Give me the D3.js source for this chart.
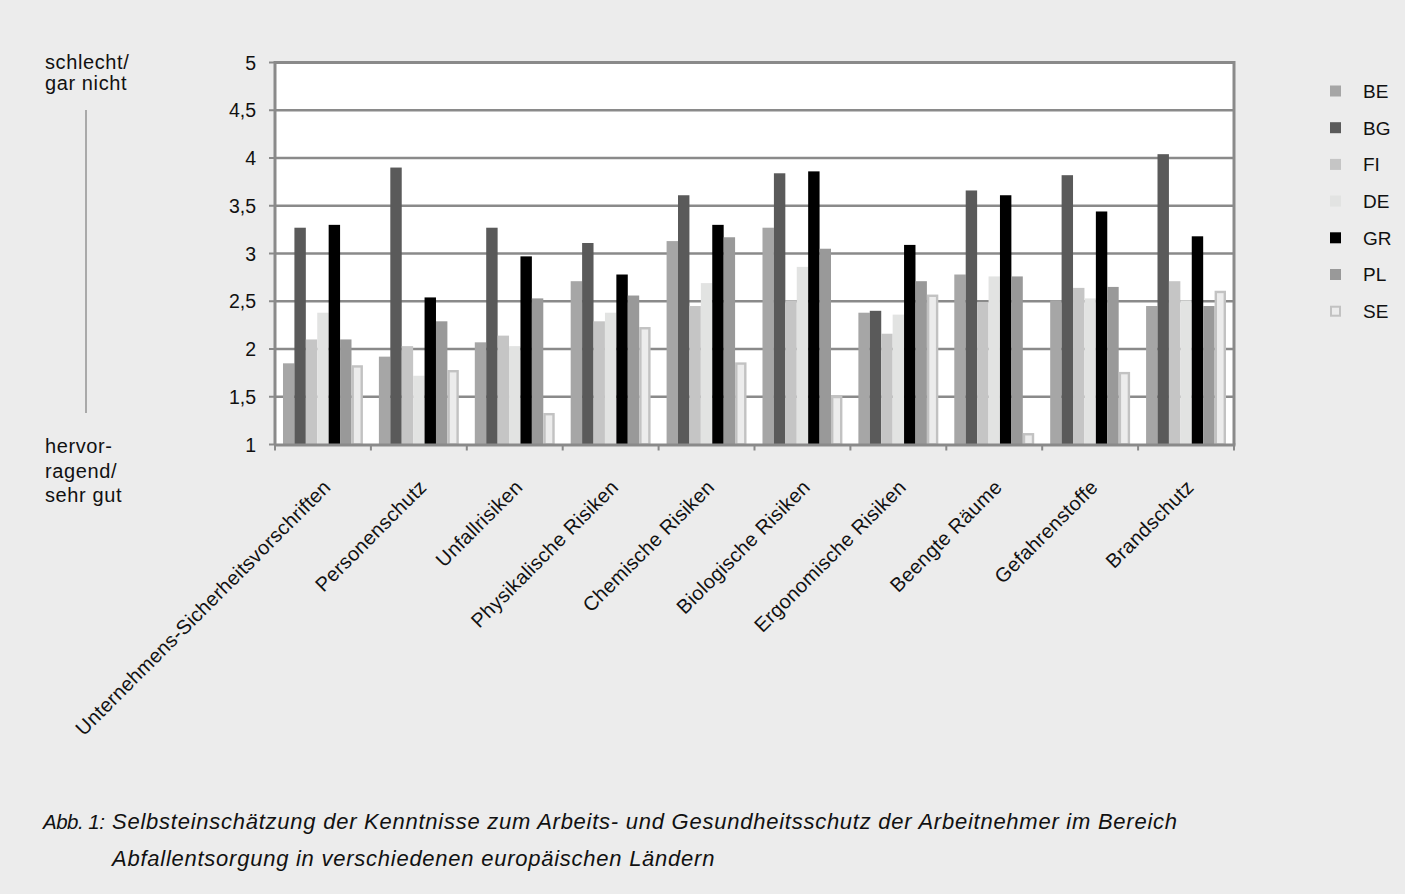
<!DOCTYPE html>
<html>
<head>
<meta charset="utf-8">
<script src="https://cdn.jsdelivr.net/npm/d3@7"></script>
<style>
  html, body { margin: 0; padding: 0; background: #ececec; }
  svg { display: block; font-family: "Liberation Sans", Arial, Helvetica, sans-serif; }
</style>
</head>
<body>
<svg id="chart" width="1405" height="894"></svg>
<script>
// Themes (x categories)
const categories = [
  "Unternehmens-Sicherheitsvorschriften",
  "Personenschutz",
  "Unfallrisiken",
  "Physikalische Risiken",
  "Chemische Risiken",
  "Biologische Risiken",
  "Ergonomische Risiken",
  "Beengte Räume",
  "Gefahrenstoffe",
  "Brandschutz"
];

// Countries (series)
const countries = ["BE", "BG", "FI", "DE", "GR", "PL", "SE"];

// Mean self-assessment per country, in category order (1 = sehr gut ... 5 = gar nicht)
const valuesBE = [1.85, 1.92, 2.07, 2.71, 3.13, 3.27, 2.38, 2.78, 2.51, 2.45];
const valuesBG = [3.27, 3.90, 3.27, 3.11, 3.61, 3.84, 2.40, 3.66, 3.82, 4.04];
const valuesFI = [2.10, 2.03, 2.14, 2.29, 2.45, 2.51, 2.16, 2.49, 2.64, 2.71];
const valuesDE = [2.38, 1.72, 2.03, 2.38, 2.69, 2.86, 2.36, 2.76, 2.53, 2.51];
const valuesGR = [3.30, 2.54, 2.97, 2.78, 3.30, 3.86, 3.09, 3.61, 3.44, 3.18];
const valuesPL = [2.10, 2.29, 2.53, 2.56, 3.17, 3.05, 2.71, 2.76, 2.65, 2.45];
const valuesSE = [1.83, 1.78, 1.33, 2.23, 1.86, 1.51, 2.57, 1.12, 1.76, 2.61];

const yTicks = [1, 1.5, 2, 2.5, 3, 3.5, 4, 4.5, 5];
const yTickLabels = ["1", "1,5", "2", "2,5", "3", "3,5", "4", "4,5", "5"];

const topLabel = ["schlecht/", "gar nicht"];
const bottomLabel = ["hervor-", "ragend/", "sehr gut"];
const captionLead = "Abb. 1:";
const captionLines = [
  "Selbsteinschätzung der Kenntnisse zum Arbeits- und Gesundheitsschutz der Arbeitnehmer im Bereich",
  "Abfallentsorgung in verschiedenen europäischen Ländern"
];

const seriesValues = [valuesBE, valuesBG, valuesFI, valuesDE, valuesGR, valuesPL, valuesSE];
const fills  = ["#a6a6a6", "#5a5a5a", "#c5c5c5", "#e2e3e2", "#000000", "#999999", "#ececec"];
const strokes = [null, null, null, null, null, null, "#c2c2c2"];

const svg = d3.select("#chart");
const plot = { left: 275, right: 1234, top: 62.5, bottom: 444.5 };

const x = d3.scaleBand().domain(categories).range([plot.left, plot.right]).padding(0);
const y = d3.scaleLinear().domain([1, 5]).range([plot.bottom, plot.top]);

// inner band for the seven countries, with a gap of 1.4 bar widths per group
const gapRatio = 1.4;
const barW = x.bandwidth() / (countries.length + gapRatio);
const xi = d3.scaleBand().domain(countries)
  .range([barW * gapRatio / 2, x.bandwidth() - barW * gapRatio / 2]).padding(0);

// plot background
svg.append("rect")
  .attr("x", plot.left).attr("y", plot.top)
  .attr("width", plot.right - plot.left).attr("height", plot.bottom - plot.top)
  .attr("fill", "#ffffff");

// horizontal gridlines
svg.append("g")
  .selectAll("line")
  .data(yTicks.filter(t => t > 1))
  .join("line")
  .attr("x1", plot.left).attr("x2", plot.right)
  .attr("y1", d => y(d)).attr("y2", d => y(d))
  .attr("stroke", "#8a8a8a").attr("stroke-width", 2.5);

// bars
const groups = svg.append("g")
  .selectAll("g")
  .data(categories)
  .join("g")
  .attr("transform", d => `translate(${x(d)},0)`);

groups.selectAll("rect")
  .data((c, ci) => countries.map((k, si) => ({ k, si, v: seriesValues[si][ci] })))
  .join("rect")
  .attr("x", d => xi(d.k) + (strokes[d.si] ? 1.2 : 0))
  .attr("width", d => xi.bandwidth() - (strokes[d.si] ? 2.4 : 0))
  .attr("y", d => y(d.v) + (strokes[d.si] ? 1.2 : 0))
  .attr("height", d => y(1) - y(d.v) - (strokes[d.si] ? 1.2 : 0))
  .attr("fill", d => fills[d.si])
  .attr("stroke", d => strokes[d.si] || "none")
  .attr("stroke-width", 2.4);

// plot frame: left, top, right
svg.append("path")
  .attr("d", `M${plot.left},${plot.bottom}V${plot.top}H${plot.right}V${plot.bottom}`)
  .attr("fill", "none").attr("stroke", "#8a8a8a").attr("stroke-width", 3);

// x axis with ticks at band edges
const xAxisG = svg.append("g");
xAxisG.append("line")
  .attr("x1", plot.left - 1).attr("x2", plot.right + 1.5)
  .attr("y1", plot.bottom + 0.5).attr("y2", plot.bottom + 0.5)
  .attr("stroke", "#8a8a8a").attr("stroke-width", 3);
xAxisG.selectAll("line.tick")
  .data(categories.map(c => x(c)).concat([plot.right]))
  .join("line").attr("class", "tick")
  .attr("x1", d => d).attr("x2", d => d)
  .attr("y1", plot.bottom).attr("y2", plot.bottom + 6)
  .attr("stroke", "#8a8a8a").attr("stroke-width", 2);

// rotated category labels
xAxisG.selectAll("text")
  .data(categories)
  .join("text")
  .attr("transform", d => `translate(${x(d) + x.bandwidth() / 2 + 9},${plot.bottom + 44}) rotate(-45)`)
  .attr("text-anchor", "end")
  .attr("font-size", 20)
  .attr("letter-spacing", 0.3)
  .attr("fill", "#111")
  .text(d => d);

// y axis tick labels
const yAxisG = svg.append("g");
yAxisG.selectAll("line")
  .data(yTicks)
  .join("line")
  .attr("x1", plot.left - 6).attr("x2", plot.left)
  .attr("y1", d => y(d)).attr("y2", d => y(d))
  .attr("stroke", "#8a8a8a").attr("stroke-width", 2);
yAxisG.selectAll("text")
  .data(yTicks)
  .join("text")
  .attr("x", 256).attr("y", d => y(d))
  .attr("dy", "0.36em")
  .attr("text-anchor", "end")
  .attr("font-size", 19.5)
  .attr("fill", "#111")
  .text((d, i) => yTickLabels[i]);

// scale annotation on the left
const ann = svg.append("g").attr("font-size", 20).attr("letter-spacing", 0.6).attr("fill", "#111");
topLabel.forEach((t, i) => ann.append("text").attr("x", 45).attr("y", 69 + i * 21).text(t));
bottomLabel.forEach((t, i) => ann.append("text").attr("x", 45).attr("y", 453 + i * 24.5).text(t));
svg.append("line")
  .attr("x1", 86).attr("x2", 86).attr("y1", 110).attr("y2", 413)
  .attr("stroke", "#a9a9a9").attr("stroke-width", 2);

// legend
const legend = svg.append("g")
  .selectAll("g")
  .data(countries)
  .join("g")
  .attr("transform", (d, i) => `translate(1330,${91 + i * 36.7})`);
legend.append("rect")
  .attr("x", d => countries.indexOf(d) === 6 ? 1 : 0)
  .attr("y", d => countries.indexOf(d) === 6 ? -4.5 : -5.5)
  .attr("width", d => countries.indexOf(d) === 6 ? 9 : 11)
  .attr("height", d => countries.indexOf(d) === 6 ? 9 : 11)
  .attr("fill", (d, i) => fills[i])
  .attr("stroke", (d, i) => strokes[i] || "none")
  .attr("stroke-width", 2);
legend.append("text")
  .attr("x", 33).attr("dy", "0.36em")
  .attr("font-size", 19)
  .attr("fill", "#111")
  .text(d => d);

// caption
const cap = svg.append("g").attr("font-style", "italic").attr("fill", "#111");
cap.append("text").attr("x", 43).attr("y", 829)
  .attr("font-size", 20.5).attr("letter-spacing", -0.5).text(captionLead);
captionLines.forEach((t, i) => cap.append("text")
  .attr("x", 112).attr("y", 829 + i * 36.5)
  .attr("font-size", 22).attr("letter-spacing", 0.75)
  .text(t));
</script>
</body>
</html>
